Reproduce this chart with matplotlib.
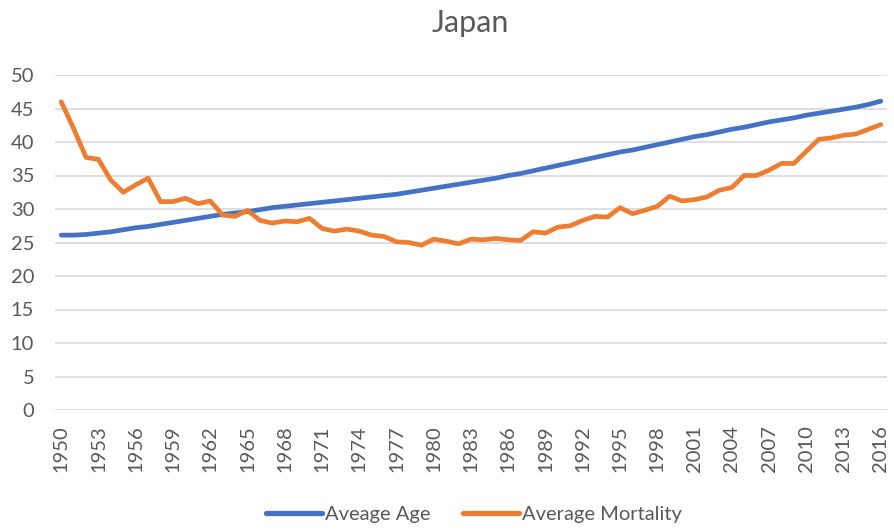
import matplotlib
matplotlib.use("Agg")
import matplotlib.pyplot as plt

years = list(range(1950, 2017))
average_age = [26.1, 26.1, 26.2, 26.4, 26.6, 26.9, 27.2, 27.4, 27.7, 28.0,
               28.3, 28.6, 28.9, 29.2, 29.4, 29.6, 29.9, 30.2, 30.4, 30.6,
               30.8, 31.0, 31.2, 31.4, 31.6, 31.8, 32.0, 32.2, 32.5, 32.8,
               33.1, 33.4, 33.7, 34.0, 34.3, 34.6, 35.0, 35.3, 35.7, 36.1,
               36.5, 36.9, 37.3, 37.7, 38.1, 38.5, 38.8, 39.2, 39.6, 40.0,
               40.4, 40.8, 41.1, 41.5, 41.9, 42.2, 42.6, 43.0, 43.3, 43.6,
               44.0, 44.3, 44.6, 44.9, 45.2, 45.6, 46.1]
average_mortality = [46.0, 42.0, 37.7, 37.4, 34.3, 32.5, 33.6, 34.6, 31.1, 31.1,
                     31.6, 30.8, 31.2, 29.1, 28.9, 29.8, 28.3, 27.9, 28.2, 28.1,
                     28.6, 27.1, 26.7, 27.0, 26.7, 26.1, 25.9, 25.1, 25.0, 24.6,
                     25.5, 25.2, 24.8, 25.5, 25.4, 25.6, 25.4, 25.3, 26.6, 26.4,
                     27.3, 27.5, 28.3, 28.9, 28.8, 30.2, 29.3, 29.8, 30.4, 31.9,
                     31.2, 31.4, 31.8, 32.8, 33.2, 35.0, 35.0, 35.8, 36.8, 36.8,
                     38.6, 40.4, 40.6, 41.0, 41.2, 41.9, 42.6]
series_names = ["Aveage Age", "Average Mortality"]
title = "Japan"

plt.rcParams['font.family'] = ['Lato', 'DejaVu Sans']

fig = plt.figure(figsize=(8.94, 5.31), dpi=100)
ax = fig.add_axes([55/894, 1-410/531, (887-55)/894, (410-75)/531])

idx = list(range(len(years)))
ax.plot(idx, average_age, color='#4472C4', lw=3.4, solid_capstyle='round', label=series_names[0], zorder=3)
ax.plot(idx, average_mortality, color='#ED7D31', lw=3.4, solid_capstyle='round', label=series_names[1], zorder=3)

ax.set_xlim(-0.5, len(years) - 0.5)
ax.set_ylim(0, 50)
ax.set_yticks(range(0, 51, 5))
ax.set_xticks(idx[::3])
ax.set_xticklabels([str(y) for y in years[::3]], rotation=90)
ax.tick_params(axis='both', length=0, labelsize=14.5, labelcolor='#595959')
ax.tick_params(axis='y', pad=15)
ax.tick_params(axis='x', pad=11)
ax.grid(axis='y', color='#D9D9D9', lw=1.2)
ax.set_axisbelow(True)
for s in ax.spines.values():
    s.set_visible(False)

fig.text(470/894, 1-23/531, title, ha='center', va='center', fontsize=22, color='#595959')

leg = fig.legend(loc='center', bbox_to_anchor=(474/894, 1-514/531), ncol=2, frameon=False,
                 fontsize=14.5, handlelength=2.8, handletextpad=0.15, columnspacing=1.6)
for t in leg.get_texts():
    t.set_color('#595959')
for h in leg.get_lines():
    h.set_linewidth(3.8)

fig.savefig('out.png', dpi=100)
